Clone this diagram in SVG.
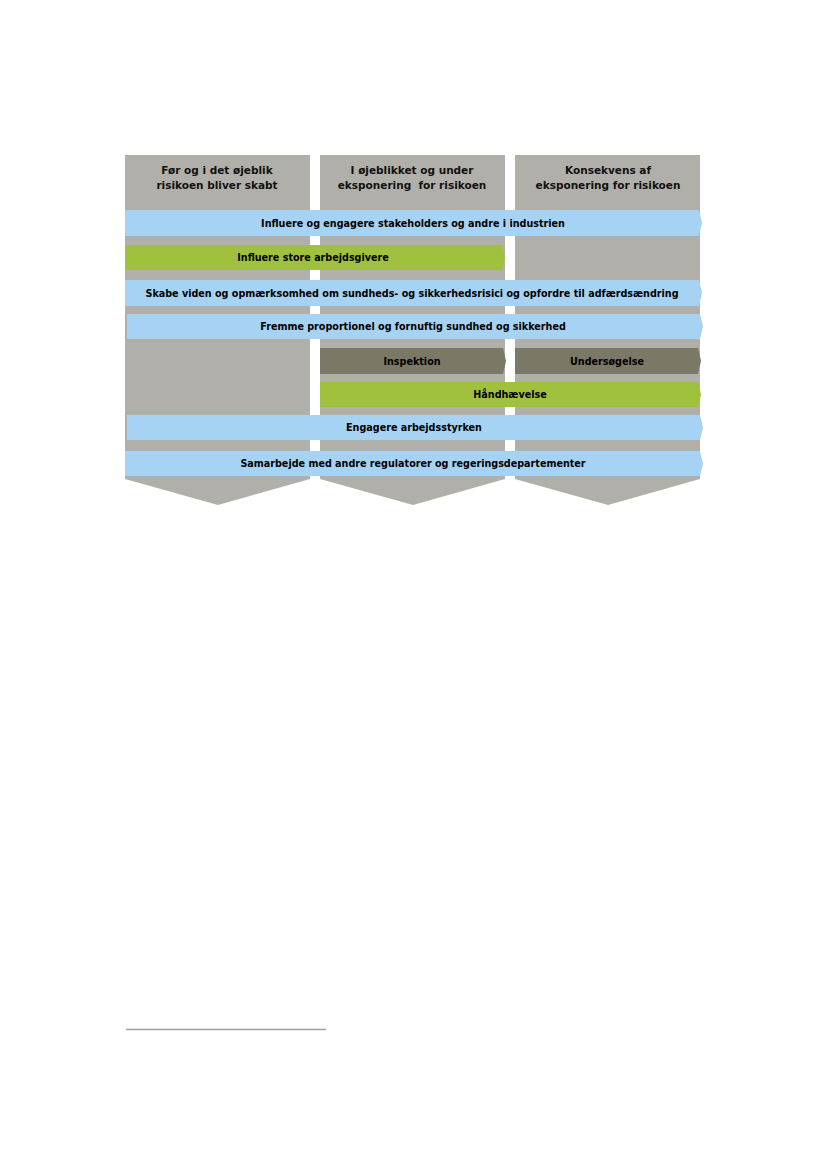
<svg xmlns="http://www.w3.org/2000/svg" width="827" height="1169" viewBox="0 0 827 1169">
<style>
.col{fill:#b0afa9}
.blue{fill:#a6d3f3}
.green{fill:#a0c13d}
.dark{fill:#7a7866}
.hd{font-family:"DejaVu Sans",Verdana,sans-serif;font-weight:bold;font-size:10.5px;fill:#111;text-anchor:middle}
.lb{font-family:"DejaVu Sans",Verdana,sans-serif;font-weight:bold;font-size:9.6px;fill:#000;text-anchor:middle}
</style>
<rect width="827" height="1169" fill="#fff"/>
<g id="col1"><path class="col" d="M125,155 H310 V479 L218,505 L125,479 Z"/>
<text class="hd" x="217" y="174">Før og i det øjeblik</text>
<text class="hd" x="217" y="189">risikoen bliver skabt</text></g>
<g id="col2"><path class="col" d="M320,155 H505 V479 L413,505 L320,479 Z"/>
<text class="hd" x="412" y="174">I øjeblikket og under</text>
<text class="hd" x="412" y="189" xml:space="preserve">eksponering  for risikoen</text></g>
<g id="col3"><path class="col" d="M515,155 H700 V479 L608,505 L515,479 Z"/>
<text class="hd" x="608" y="174">Konsekvens af</text>
<text class="hd" x="608" y="189">eksponering for risikoen</text></g>
<g id="bar1"><path class="blue" d="M125,210 H699 L702,223 L699,236 H125 Z"/>
<text class="lb" x="413" y="227">Influere og engagere stakeholders og andre i industrien</text></g>
<g id="bar2"><path class="green" d="M125,245 H502 L505,257.5 L502,270 H125 Z"/>
<text class="lb" x="313" y="261">Influere store arbejdsgivere</text></g>
<g id="bar3"><path class="blue" d="M125,280 H699 L702,293 L699,306 H125 Z"/>
<text class="lb" x="412" y="297">Skabe viden og opmærksomhed om sundheds- og sikkerhedsrisici og opfordre til adfærdsændring</text></g>
<g id="bar4"><path class="blue" d="M127,314 H700 L703,326.5 L700,339 H127 Z"/>
<text class="lb" x="413" y="330">Fremme proportionel og fornuftig sundhed og sikkerhed</text></g>
<g id="bar5"><path class="dark" d="M320,348 H503 L506,361 L503,374 H320 Z"/>
<text class="lb" x="412" y="365">Inspektion</text></g>
<g id="bar6"><path class="dark" d="M515,348 H698 L701,361 L698,374 H515 Z"/>
<text class="lb" x="607" y="365">Undersøgelse</text></g>
<g id="bar7"><path class="green" d="M320,382 H698 L701,394.5 L698,407 H320 Z"/>
<text class="lb" x="510" y="398">Håndhævelse</text></g>
<g id="bar8"><path class="blue" d="M127,415 H700 L703,427.5 L700,440 H127 Z"/>
<text class="lb" x="414" y="431">Engagere arbejdsstyrken</text></g>
<g id="bar9"><path class="blue" d="M125,451 H700 L703,463.5 L700,476 H125 Z"/>
<text class="lb" x="413" y="467">Samarbejde med andre regulatorer og regeringsdepartementer</text></g>
<g id="connectors"></g>
<line x1="126" y1="1029.5" x2="326" y2="1029.5" stroke="#a0a0a0" stroke-width="1.5"/>
</svg>
